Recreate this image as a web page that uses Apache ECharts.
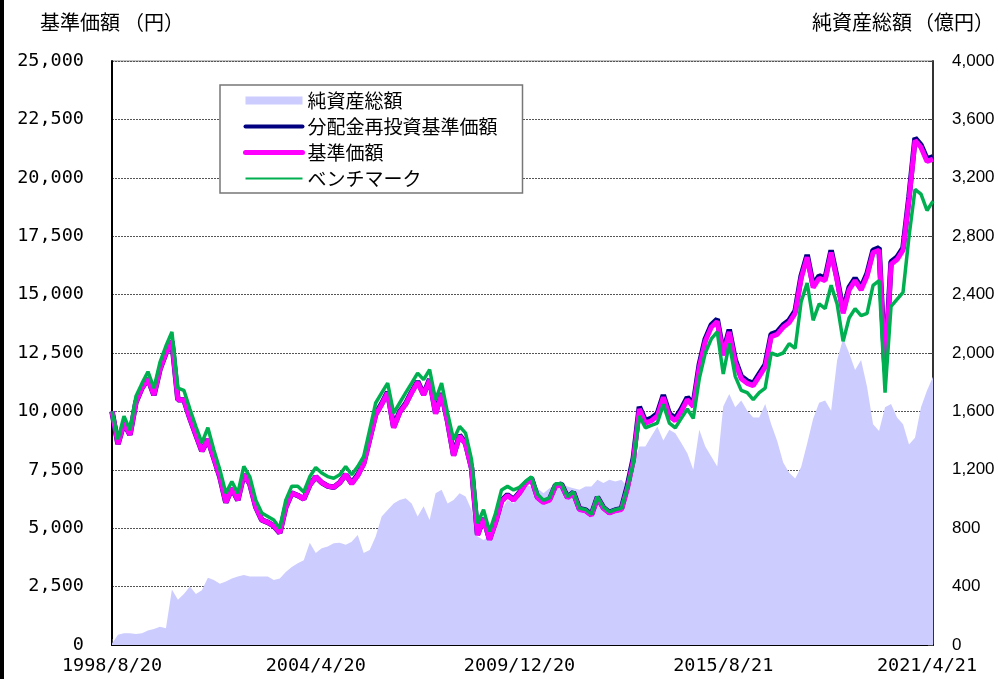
<!DOCTYPE html>
<html>
<head>
<meta charset="utf-8">
<script src="https://cdn.jsdelivr.net/npm/echarts@6/dist/echarts.min.js"></script>
<style>html,body{margin:0;padding:0;background:#fff;}#c{width:998px;height:679px;}</style>
</head>
<body>
<div id="c"></div>
<script>
// Sample points every 2 months from 1998/8 to 2021/6
const startYear = 1998, startMonth = 8, pointCount = 138;
const categories = [];
for (let k = 0; k < pointCount; k++) {
  const m = startMonth - 1 + k * 2;
  categories.push((startYear + Math.floor(m / 12)) + '/' + (m % 12 + 1));
}
const tickLabels = ['1998/8/20', '2004/4/20', '2009/12/20', '2015/8/21', '2021/4/21'];

// 純資産総額 (億円)
const netAssets = [10,70,80,80,75,80,100,110,125,115,
  380,310,350,400,350,375,460,445,420,435,
  455,470,480,470,470,470,470,445,455,500,
  535,560,580,700,630,663,674,697,700,686,
  708,754,630,650,743,880,925,970,994,1005,
  970,880,950,857,1040,1063,970,994,1040,1017,
  925,743,720,743,834,925,994,970,1030,1097,
  1086,1074,1040,1074,1097,1109,1086,1074,1063,1086,
  1086,1131,1109,1131,1120,1131,1086,1223,1360,1360,
  1429,1497,1400,1474,1451,1383,1314,1200,1474,1360,
  1291,1223,1634,1720,1628,1674,1605,1559,1559,1650,
  1512,1397,1250,1180,1140,1220,1380,1550,1660,1674,
  1605,1950,2100,2000,1883,1952,1767,1512,1466,1628,
  1651,1559,1512,1373,1420,1628,1744,1837];

// 分配金再投資基準価額 (円)
const reinvestNav = [10000,8600,9500,9000,10400,11000,11400,10700,11800,12500,
  13000,10500,10500,9700,9000,8300,8800,8000,7200,6100,
  6700,6200,7300,6900,5900,5350,5250,5100,4800,5900,
  6500,6400,6250,6850,7200,6950,6800,6750,6950,7300,
  6930,7280,7780,8830,9880,10330,10830,9330,9980,10330,
  10830,11280,10730,11380,9930,10780,9580,8130,8980,8630,
  7580,4730,5430,4530,5280,6180,6430,6230,6530,6930,
  7130,6330,6130,6230,6830,6880,6330,6530,5830,5780,
  5580,6330,5880,5680,5780,5830,6800,8000,10200,9600,
  9700,9900,10700,9900,9700,10100,10600,10300,12000,13100,
  13700,13950,12500,13500,12200,11500,11300,11200,11600,12000,
  13300,13400,13700,13900,14300,15800,16700,15400,15800,15700,
  16900,15700,14300,15300,15700,15300,15900,16900,17000,11800,
  16400,16600,17000,19200,21700,21400,20800,20900];

// 基準価額 (円)
const nav = [10000,8600,9500,9000,10400,11000,11400,10700,11800,12500,
  13000,10500,10500,9700,9000,8300,8800,8000,7200,6100,
  6700,6200,7300,6900,5900,5350,5250,5100,4800,5900,
  6500,6400,6250,6850,7200,6950,6800,6750,6950,7300,
  6900,7250,7750,8800,9850,10300,10800,9300,9950,10300,
  10800,11250,10700,11350,9900,10750,9550,8100,8950,8600,
  7550,4700,5400,4500,5250,6150,6400,6200,6500,6900,
  7100,6300,6100,6200,6800,6850,6300,6500,5800,5750,
  5550,6300,5850,5650,5750,5800,6700,7900,10100,9500,
  9600,9800,10600,9800,9600,10000,10500,10200,11900,13000,
  13600,13850,12400,13400,12100,11400,11200,11100,11500,11900,
  13200,13300,13600,13800,14200,15700,16600,15300,15700,15600,
  16800,15600,14200,15200,15600,15200,15800,16800,16900,11700,
  16300,16500,16900,19100,21600,21300,20700,20800];

// ベンチマーク
const benchmark = [10000,8800,9800,9200,10650,11200,11700,11000,12100,12800,
  13400,11000,10900,10100,9350,8650,9300,8350,7500,6500,
  7000,6500,7650,7200,6200,5650,5500,5350,5000,6200,
  6800,6800,6550,7200,7600,7360,7210,7140,7290,7640,
  7290,7640,8070,9210,10360,10790,11210,9930,10360,10790,
  11210,11640,11360,11790,10500,11210,9930,8790,9360,9070,
  7930,5210,5790,4860,5640,6640,6790,6640,6750,7000,
  7200,6450,6200,6300,6900,6900,6350,6550,5850,5800,
  5600,6350,5900,5700,5800,5850,6750,7800,9800,9300,
  9400,9500,10300,9500,9300,9700,10100,9700,11400,12500,
  13100,13400,11600,12900,11500,10900,10800,10500,10800,11000,
  12500,12400,12500,12900,12700,14700,15500,13900,14600,14400,
  15400,14600,13000,14000,14400,14100,14200,15400,15600,10800,
  14500,14800,15100,17500,19500,19300,18600,19000];

const chart = echarts.init(document.getElementById('c'));
const monoFont = 'DejaVu Sans Mono';
const cjkFont = 'Noto Sans CJK JP';
const titleFont = '20px "Noto Sans CJK JP"';
chart.setOption({
  animation: false,
  backgroundColor: '#fff',
  grid: {left: 112, right: 65, top: 61, bottom: 34, show: true, borderColor: '#888', borderWidth: 1},
  graphic: [
    {type: 'rect', left: 0, top: 0, shape: {width: 4, height: 679}, style: {fill: '#000'}},
    {type: 'text', left: 40, top: 12, style: {text: '基準価額', font: titleFont, fill: '#000'}},
    {type: 'text', left: 124, top: 12, style: {text: '（円）', font: titleFont, fill: '#000'}},
    {type: 'text', left: 812, top: 12, style: {text: '純資産総額', font: titleFont, fill: '#000'}},
    {type: 'text', left: 914, top: 12, style: {text: '（億円）', font: titleFont, fill: '#000'}}
  ],
  legend: {
    orient: 'vertical', left: 220, top: 85,
    padding: [6, 25, 5, 23], itemGap: 7, itemWidth: 57, itemHeight: 8,
    backgroundColor: '#fff', borderColor: '#777', borderWidth: 1.5,
    textStyle: {fontFamily: cjkFont, fontSize: 19, color: '#000'},
    data: [
      {name: '純資産総額', icon: 'rect'},
      {name: '分配金再投資基準価額', itemStyle: {opacity: 0}, lineStyle: {width: 4, cap: 'round'}},
      {name: '基準価額', itemStyle: {opacity: 0}, lineStyle: {width: 5, cap: 'round'}},
      {name: 'ベンチマーク', itemStyle: {opacity: 0}, lineStyle: {width: 2}}
    ]
  },
  xAxis: {
    type: 'category', data: categories, boundaryGap: false,
    axisLine: {lineStyle: {color: '#000', width: 2}},
    axisTick: {inside: true, length: 6, interval: 33, lineStyle: {color: '#444'}},
    axisLabel: {
      interval: 33, margin: 12, color: '#000', fontFamily: monoFont, fontSize: 18.5,
      formatter: (v, idx) => tickLabels[Math.round(idx / 34)] || ''
    },
    splitLine: {show: false}
  },
  yAxis: [
    {
      type: 'value', min: 0, max: 25000, interval: 2500, position: 'left',
      axisLine: {show: true, lineStyle: {color: '#000', width: 2}},
      axisTick: {show: false},
      axisLabel: {margin: 28, color: '#000', fontFamily: monoFont, fontSize: 18.5,
        formatter: v => v.toLocaleString('en-US')},
      splitLine: {show: true, lineStyle: {color: '#555', type: [2, 1], width: 1}}
    },
    {
      type: 'value', min: 0, max: 4000, interval: 400, position: 'right',
      axisLine: {show: true, lineStyle: {color: '#333', width: 2}},
      axisTick: {show: true, inside: true, length: 5, lineStyle: {color: '#444'}},
      axisLabel: {margin: 19, color: '#000', fontFamily: 'Liberation Sans', fontSize: 17,
        formatter: v => v.toLocaleString('en-US')},
      splitLine: {show: false}
    }
  ],
  series: [
    {name: '純資産総額', type: 'line', yAxisIndex: 1, data: netAssets, symbol: 'none',
      lineStyle: {width: 0, color: '#ccccff'}, itemStyle: {color: '#ccccff'},
      areaStyle: {color: '#ccccff', opacity: 1}},
    {name: '分配金再投資基準価額', type: 'line', data: reinvestNav, symbol: 'none',
      lineStyle: {width: 5.5, color: '#000080'}, itemStyle: {color: '#000080'}},
    {name: '基準価額', type: 'line', data: nav, symbol: 'none',
      lineStyle: {width: 5, color: '#ff00ff'}, itemStyle: {color: '#ff00ff'}},
    {name: 'ベンチマーク', type: 'line', data: benchmark, symbol: 'none',
      lineStyle: {width: 3.5, color: '#00b050'}, itemStyle: {color: '#00b050'}}
  ]
});
</script>
</body>
</html>
